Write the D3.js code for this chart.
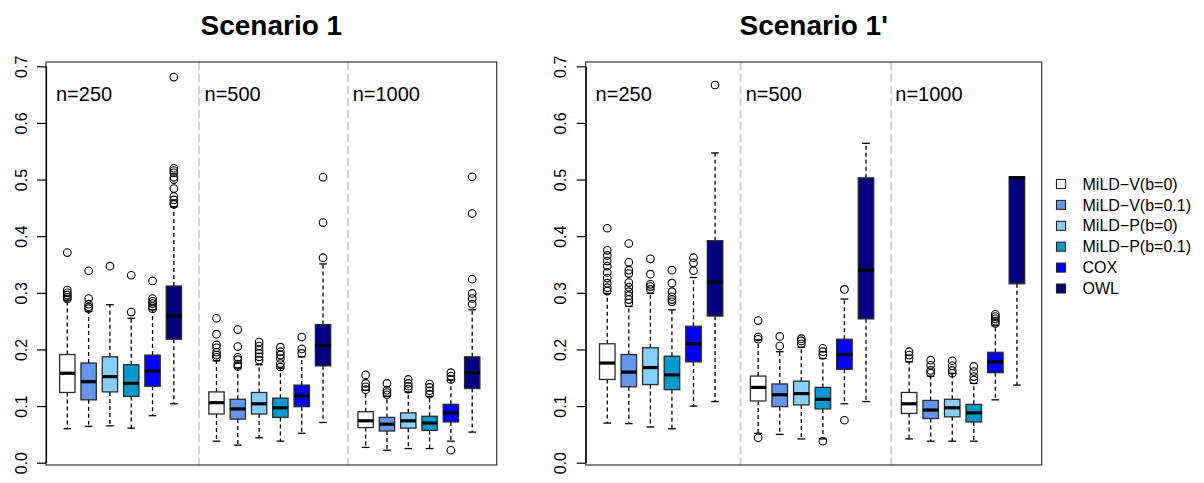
<!DOCTYPE html>
<html>
<head>
<meta charset="utf-8">
<script src="https://cdn.jsdelivr.net/npm/d3@7"></script>
<style>
  html, body { margin: 0; padding: 0; background: #fff; }
  svg { display: block; font-family: "Liberation Sans", Arial, sans-serif; }
</style>
</head>
<body>
<svg id="chart" width="1204" height="483"></svg>
<script>
// ---------------- data ----------------
const methods = ["MiLD\u2212V(b=0)", "MiLD\u2212V(b=0.1)", "MiLD\u2212P(b=0)", "MiLD\u2212P(b=0.1)", "COX", "OWL"];
const methodColors = ["#FFFFFF", "#6495ED", "#87CEFA", "#009ACD", "#0000FF", "#000080"];
const sampleSizes = ["n=250", "n=500", "n=1000"];
const panelTitles = ["Scenario 1", "Scenario 1'"];
const yTicks = [0, 0.1, 0.2, 0.3, 0.4, 0.5, 0.6, 0.7];

// Scenario 1 (boxes ordered: n=250 x 6 methods, n=500 x 6, n=1000 x 6)
const s1Lower  = [0.060,0.064,0.065,0.061,0.083,0.104, 0.038,0.031,0.044,0.038,0.052,0.071, 0.027,0.022,0.025,0.025,0.038,0.054];
const s1Q1     = [0.124,0.111,0.125,0.117,0.135,0.218, 0.086,0.077,0.086,0.080,0.099,0.171, 0.062,0.056,0.061,0.057,0.072,0.131];
const s1Median = [0.158,0.143,0.152,0.140,0.162,0.259, 0.106,0.095,0.104,0.097,0.118,0.207, 0.074,0.068,0.074,0.070,0.088,0.159];
const s1Q3     = [0.191,0.176,0.187,0.173,0.190,0.312, 0.125,0.112,0.124,0.114,0.137,0.244, 0.090,0.080,0.088,0.082,0.103,0.187];
const s1Upper  = [0.287,0.267,0.279,0.255,0.270,0.452, 0.180,0.167,0.173,0.167,0.187,0.351, 0.128,0.117,0.125,0.117,0.146,0.270];
const s1Outliers = [
  [0.371,0.305,0.300,0.296,0.292,0.289],
  [0.339,0.290,0.280,0.275,0.272],
  [0.347],
  [0.331,0.266],
  [0.321,0.290,0.285,0.281,0.276,0.272],
  [0.681,0.520,0.516,0.512,0.504,0.500,0.484,0.470,0.464,0.458,0.456],
  [0.255,0.227,0.208,0.203,0.195,0.190,0.186],
  [0.235,0.205,0.186,0.182,0.174,0.170],
  [0.213,0.206,0.199,0.193,0.187,0.181],
  [0.204,0.196,0.190,0.184,0.175,0.169],
  [0.222,0.201,0.193],
  [0.504,0.424,0.362],
  [0.155,0.140,0.134,0.129],
  [0.140,0.128,0.124,0.120],
  [0.147,0.140,0.135,0.130],
  [0.139,0.133,0.127,0.121],
  [0.159,0.153,0.147,0.022],
  [0.505,0.440,0.324,0.299,0.290,0.280]
];

// Scenario 1'
const s2Lower  = [0.070,0.069,0.063,0.060,0.100,0.108, 0.052,0.050,0.042,0.042,0.104,0.108, 0.042,0.038,0.038,0.038,0.111,0.137];
const s2Q1     = [0.147,0.134,0.138,0.129,0.178,0.259, 0.109,0.099,0.102,0.095,0.165,0.254, 0.087,0.078,0.081,0.072,0.159,0.316];
const s2Median = [0.176,0.160,0.168,0.155,0.210,0.319, 0.133,0.120,0.122,0.112,0.191,0.340, 0.104,0.093,0.097,0.088,0.178,0.503];
const s2Q3     = [0.210,0.191,0.203,0.188,0.241,0.392, 0.153,0.139,0.144,0.133,0.218,0.503, 0.124,0.110,0.112,0.103,0.195,0.505];
const s2Upper  = [0.299,0.276,0.299,0.270,0.327,0.547, 0.217,0.196,0.204,0.184,0.289,0.564, 0.178,0.153,0.158,0.140,0.242,0.505];
const s2Outliers = [
  [0.414,0.375,0.366,0.356,0.347,0.336,0.326,0.317,0.309,0.303],
  [0.387,0.354,0.340,0.334,0.318,0.310,0.302,0.295,0.288,0.282],
  [0.360,0.333,0.315,0.311,0.306],
  [0.340,0.317,0.302,0.293,0.288,0.284],
  [0.362,0.353,0.339],
  [0.667],
  [0.251,0.222,0.218,0.044],
  [0.223,0.206],
  [0.219,0.215,0.210],
  [0.202,0.196,0.190,0.038],
  [0.306,0.075],
  [],
  [0.196,0.190,0.184],
  [0.181,0.172,0.163,0.158],
  [0.180,0.171,0.163,0.158],
  [0.170,0.161,0.152,0.146],
  [0.262,0.258,0.254,0.250,0.246],
  []
];

// ---------------- layout ----------------
const svg = d3.select("#chart");
const plotTop = 62, plotBottom = 465;
const y = d3.scaleLinear().domain([0, 0.7]).range([462.7, 66.3]);

const panels = [
  { title: panelTitles[0], x0: 46,    x1: 496.7,  labelX: 27,
    stats: [s1Lower, s1Q1, s1Median, s1Q3, s1Upper], outliers: s1Outliers,
    sepPos: [7.18, 14.17], nPos: [0.47, 7.44, 14.39] },
  { title: panelTitles[1], x0: 585.7, x1: 1041.7, labelX: 565.5,
    stats: [s2Lower, s2Q1, s2Median, s2Q3, s2Upper], outliers: s2Outliers,
    sepPos: [7.19, 14.17], nPos: [0.46, 7.42, 14.36] }
];

const boxW = 0.72;
const edgeColor = "#2a2a2a";

panels.forEach(p => {
  const x = d3.scaleLinear().domain([0, 21.15]).range([p.x0, p.x1]);
  const g = svg.append("g");

  // separators
  g.selectAll("line.sep").data(p.sepPos).join("line")
    .attr("x1", d => x(d)).attr("x2", d => x(d))
    .attr("y1", plotTop).attr("y2", plotBottom)
    .attr("stroke", "#d0d0d0").attr("stroke-width", 2)
    .attr("stroke-dasharray", "8,4");

  // sample size labels
  g.selectAll("text.n").data(sampleSizes).join("text")
    .attr("x", (d, i) => x(p.nPos[i])).attr("y", 101)
    .attr("font-size", 20).attr("fill", "#000")
    .text(d => d);

  const boxes = d3.range(18).map(i => ({
    pos: Math.floor(i / 6) * 7 + (i % 6) + 1,
    color: methodColors[i % 6],
    lo: p.stats[0][i], q1: p.stats[1][i], med: p.stats[2][i], q3: p.stats[3][i], hi: p.stats[4][i],
    out: p.outliers[i]
  }));

  const bg = g.selectAll("g.box").data(boxes).join("g");
  const half = (x(boxW) - x(0)) / 2;
  const cap = half / 2;

  // whiskers
  bg.append("line")
    .attr("x1", d => x(d.pos)).attr("x2", d => x(d.pos))
    .attr("y1", d => y(d.q3)).attr("y2", d => y(d.hi))
    .attr("stroke", "#000").attr("stroke-width", 1.3).attr("stroke-dasharray", "4,3");
  bg.append("line")
    .attr("x1", d => x(d.pos)).attr("x2", d => x(d.pos))
    .attr("y1", d => y(d.q1)).attr("y2", d => y(d.lo))
    .attr("stroke", "#000").attr("stroke-width", 1.3).attr("stroke-dasharray", "4,3");
  // staples
  bg.append("line")
    .attr("x1", d => x(d.pos) - cap).attr("x2", d => x(d.pos) + cap)
    .attr("y1", d => y(d.hi)).attr("y2", d => y(d.hi))
    .attr("stroke", "#000").attr("stroke-width", 1.3);
  bg.append("line")
    .attr("x1", d => x(d.pos) - cap).attr("x2", d => x(d.pos) + cap)
    .attr("y1", d => y(d.lo)).attr("y2", d => y(d.lo))
    .attr("stroke", "#000").attr("stroke-width", 1.3);
  // box
  bg.append("rect")
    .attr("x", d => x(d.pos) - half).attr("width", half * 2)
    .attr("y", d => y(d.q3)).attr("height", d => y(d.q1) - y(d.q3))
    .attr("fill", d => d.color).attr("stroke", edgeColor).attr("stroke-width", 1.3);
  // median
  bg.append("line")
    .attr("x1", d => x(d.pos) - half).attr("x2", d => x(d.pos) + half)
    .attr("y1", d => y(d.med)).attr("y2", d => y(d.med))
    .attr("stroke", "#000").attr("stroke-width", 3.2);
  // outliers
  bg.selectAll("circle").data(d => d.out.map(v => ({ pos: d.pos, v }))).join("circle")
    .attr("cx", d => x(d.pos)).attr("cy", d => y(d.v)).attr("r", 3.8)
    .attr("fill", "none").attr("stroke", "#000").attr("stroke-width", 1.1);

  // frame
  g.append("rect")
    .attr("x", p.x0).attr("y", plotTop)
    .attr("width", p.x1 - p.x0).attr("height", plotBottom - plotTop)
    .attr("fill", "none").attr("stroke", "#333").attr("stroke-width", 1.2);

  // y axis
  const ax = g.append("g").attr("transform", `translate(${p.x0},0)`)
    .call(d3.axisLeft(y).tickValues(yTicks).tickFormat(d3.format(".1f")).tickSize(9).tickSizeOuter(0));
  ax.select(".domain").attr("stroke", "#000").attr("stroke-width", 1.2);
  ax.selectAll(".tick line").attr("stroke", "#000").attr("stroke-width", 1.2);
  ax.selectAll(".tick text")
    .attr("x", 0).attr("y", 0).attr("dy", 0)
    .attr("transform", `translate(${p.labelX - p.x0},0) rotate(-90)`)
    .attr("text-anchor", "middle")
    .attr("font-size", 16).attr("font-family", "Liberation Sans, Arial, sans-serif")
    .attr("fill", "#000");

  // title
  svg.append("text")
    .attr("x", (p.x0 + p.x1) / 2).attr("y", 35)
    .attr("text-anchor", "middle")
    .attr("font-size", 28).attr("font-weight", "bold")
    .text(p.title);
});

// legend
const legend = svg.append("g");
const legRows = legend.selectAll("g").data(methods).join("g")
  .attr("transform", (d, i) => `translate(0, ${184 + i * 20.9})`);
legRows.append("rect")
  .attr("x", 1056.5).attr("y", -4.5).attr("width", 9).attr("height", 9)
  .attr("fill", (d, i) => methodColors[i]).attr("stroke", "#222").attr("stroke-width", 1.1);
legRows.append("text")
  .attr("x", 1082.5).attr("y", 5.6)
  .attr("font-size", 16).attr("fill", "#000")
  .text(d => d);
</script>
</body>
</html>
